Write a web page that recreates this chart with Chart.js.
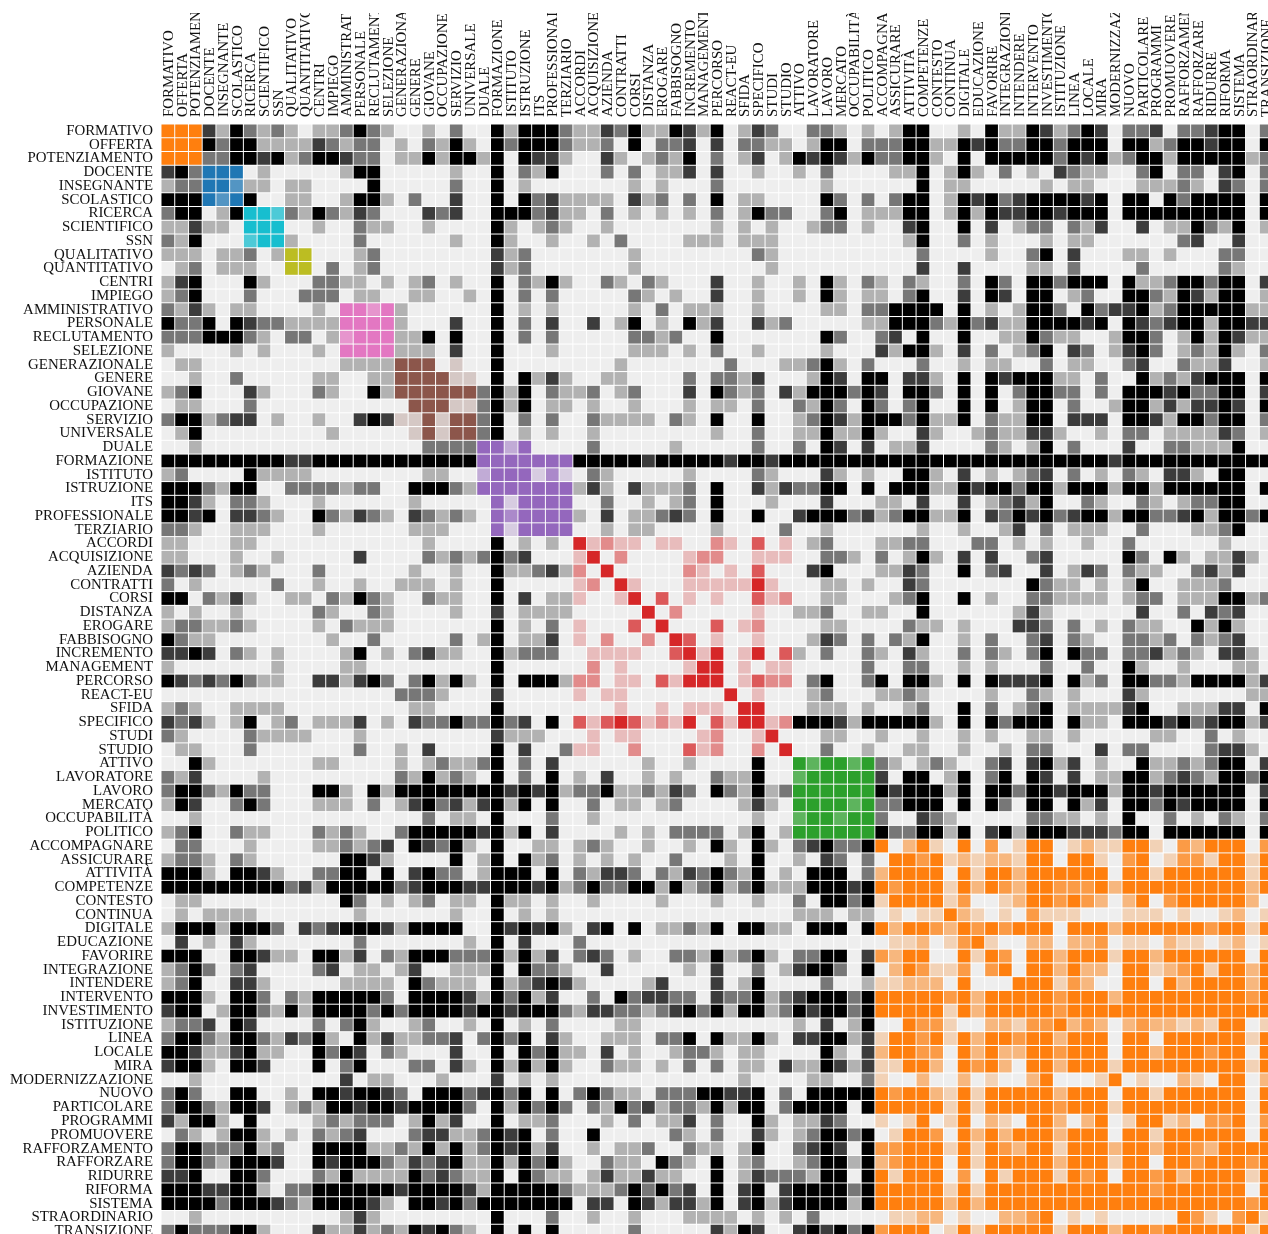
<!DOCTYPE html>
<html>
<head>
<meta charset="utf-8">
<title>Matrice di co-occorrenza</title>
<script src="https://cdn.jsdelivr.net/npm/chart.js"></script>
<style>
    html, body { margin: 0; padding: 0; background: #fff; overflow: hidden; }
    #matrix { position: absolute; left: 0; top: 13px; filter: blur(0.4px); }
</style>
</head>
<body>
<canvas id="matrix" width="1273" height="1225"></canvas>
<script>
// Terms, in the order of rows and columns
const terms = ['FORMATIVO','OFFERTA','POTENZIAMENTO','DOCENTE','INSEGNANTE','SCOLASTICO','RICERCA','SCIENTIFICO','SSN',
    'QUALITATIVO','QUANTITATIVO','CENTRI','IMPIEGO','AMMINISTRATIVO','PERSONALE','RECLUTAMENTO','SELEZIONE',
    'GENERAZIONALE','GENERE','GIOVANE','OCCUPAZIONE','SERVIZIO','UNIVERSALE','DUALE','FORMAZIONE','ISTITUTO',
    'ISTRUZIONE','ITS','PROFESSIONALE','TERZIARIO','ACCORDI','ACQUISIZIONE','AZIENDA','CONTRATTI','CORSI',
    'DISTANZA','EROGARE','FABBISOGNO','INCREMENTO','MANAGEMENT','PERCORSO','REACT-EU','SFIDA','SPECIFICO',
    'STUDI','STUDIO','ATTIVO','LAVORATORE','LAVORO','MERCATO','OCCUPABILITÀ','POLITICO','ACCOMPAGNARE',
    'ASSICURARE','ATTIVITÀ','COMPETENZE','CONTESTO','CONTINUA','DIGITALE','EDUCAZIONE','FAVORIRE','INTEGRAZIONE',
    'INTENDERE','INTERVENTO','INVESTIMENTO','ISTITUZIONE','LINEA','LOCALE','MIRA','MODERNIZZAZIONE','NUOVO',
    'PARTICOLARE','PROGRAMMI','PROMUOVERE','RAFFORZAMENTO','RAFFORZARE','RIDURRE','RIFORMA','SISTEMA',
    'STRAORDINARIO','TRANSIZIONE'];

// Consecutive groups of terms and their colours (null = no group, stays black)
const communitySizes = [3, 3, 3, 2, 2, 4, 6, 7, 16, 6, 29];
const communityColors = ['255,127,14', '31,119,180', '23,190,207', '188,189,34', null, '227,119,194',
    '140,86,75', '148,103,189', '214,39,40', '44,160,44', '255,127,14'];

// Strength levels 0-4. The matrix is symmetric so only the upper part is kept.
// Rows 0-19, columns 0-80
const rowsBlock0 = [
    '44431421210112421001 02004144421132411431 40132002210101440010 411431243022302234402',
    '44442441111321220102 14104244421120402230 30221101440222441143 422442444044124434404',
    '44422443412443220114 14414043310031012140 20130143431422441040 444442434124414444412',
    '34244401000001440000 01004021400020201130 30010010200001140141 020103211002402203402',
    '12244311011000040000 02004010000000101000 20000000100000040110 000010110001112103202',
    '44443440011001441020 03004042311110312020 40110000420202440143 423444434044042444404',
    '24401444321421320003 23004442311020101010 20142200240111440141 433443444044444444404',
    '11311044400100211001 00004101210010000000 10101001220100340040 301220213003011421401',
    '21400034410000200000 01004100100102000011 10111000000000140020 100010110000002300300',
    '11101120144000120000 00003120000000100000 00021000000000020000 100240300011010002200',
    '01201110044020120000 00003120000000100000 00001000000000030030 000110200002000002100',
    '13400041000221101012 01004021410021021000 30010010410210210020 420442444041124424403',
    '12400020002220110011 00104020200000210100 30010010410110240030 430440120044214314401',
    '21310110000104434100 00004010100000102011 10010000110224444040 101442042334124444411',
    '42240432211114444100 03004020300301401041 30031200000114442142 311444434043234414433',
    '22244421022013444114 04004020200000221200 40000000420023040040 011421100144201414311',
    '10000101000104444111 03004000100000111010 20010000100031441030 201240320134201214102',
    '01100000000001111444 01004000000001000000 02000112410200020010 110020110023002113001',
    '00100200000110011444 41104041310011000020 22130001430440331040 434441102004121344404',
    '12400031000210041444 44424140211201200030 42120314442430442040 402442202044434224403'
];
// Rows 20-39, columns 20-80
const rowsBlock1 = [
    '41124140110100100010 11020021420420240040 401440200144131334304',
    '14424020200211110210 40040012431444241140 211440333044314424402',
    '14424010100100000000 10020011411410031001 211331001022011113201',
    '22244240000200000100 00020020430301130000 210140200030022111400',
    '44444444444444434444 43443444444444444444 444444444344444444444',
    '10024441310210000010 00021000310100441030 101230201021033104400',
    '42144444441310311120 40031322440404441143 442441444144144444404',
    '00004144440020010120 40001000300011030030 123140021002101224400',
    '12104344441030112320 40040034442312441140 324342344144223414424',
    '10004144440010110000 10000200100000010010 013020111002000112400',
    '00004010104121101100 21030101200011220002 201010010020000001000',
    '12124230001402000012 20011100221020141030 300230000042041011310',
    '01004112312040000021 01030003400011320040 230030132021100231300',
    '01004000001204100011 11141000110100320000 000421101014001112000',
    '11004030111001403010 10031200110001240040 100221111012201114412',
    '01003011110000040200 00010011200110040000 001310000003002032300',
    '00004010201000304000 30120000110000211010 003320201021100414100',
    '02014011301020020430 10010001320202140010 200230210022120212300',
    '11004122200111100341 40140310200210310020 210240422022312103310',
    '00004000000201000014 40101100000200220010 100020020041001000110'
];
// Rows 40-59, columns 40-80
const rowsBlock2 = [
    '40132202400240441040 433340412044221444413',
    '04010001200011210000 100210100031000000011',
    '10440001110100120040 201240111134001113304',
    '31441244431444441040 424440411044434234413',
    '20014000110010010010 100110100000110020100',
    '20020400200100110010 010220003022000023310',
    '00040043443421012100 230341301004112124403',
    '21140034444430440140 240430301144123214424',
    '42141244444443444140 442443444144344444403',
    '00131044443422444040 420440413044243444404',
    '00010034434420032100 000221101040020102102',
    '20140144444442244140 341444333244044444404',
    '41041023422440241040 301440121144103244403',
    '01040010320204434121 221440441034013314414',
    '42140104440224444041 442444444044144444414',
    '41241114443443444142 432443334244444444424',
    '10010020442414444130 012443432024034444420',
    '00000011101101011421 010311100011101001201',
    '40441104440442443243 434440444244444434414',
    '00000000000001120134 100220223011021101201'
];
// Rows 60-80, columns 60-80
const rowsBlock3 = [
    '430442444144244444404',
    '340442422044123414424',
    '004441320044042444424',
    '444443444244444444434',
    '444443444444444444444',
    '221334232023221214401',
    '443442444044044444414',
    '422443444044244434404',
    '420442444144444444414',
    '100240001401002104402',
    '444442444044144444404',
    '444443444144444444404',
    '210442024014412033403',
    '424442444044144444404',
    '432441444244244324444',
    '444442444144044344434',
    '414441434044342444414',
    '444444444444344444404',
    '444444444444444444434',
    '022340101000004310341',
    '444441444244344444414'
];

const levelRows = [...rowsBlock0, ...rowsBlock1, ...rowsBlock2, ...rowsBlock3].map(r => r.replace(/ /g, ''));

function firstColumn(row) {
    return Math.min(Math.floor(row / 20), 3) * 20;
}

function levelAt(row, col) {
    if (col >= firstColumn(row)) return Number(levelRows[row][col - firstColumn(row)]);
    return Number(levelRows[col][row - firstColumn(col)]);
}

// group index of every term
const groupOf = [];
communitySizes.forEach((size, g) => {
    for (let i = 0; i < size; i++) groupOf.push(g);
});

const backgroundCells = [];
const valueCells = [];
terms.forEach((rowTerm, row) => {
    terms.forEach((colTerm, col) => {
        backgroundCells.push({ x: colTerm, y: rowTerm });
        const level = levelAt(row, col);
        if (level > 0) {
            const color = groupOf[row] === groupOf[col] ? communityColors[groupOf[row]] : null;
            valueCells.push({ x: colTerm, y: rowTerm, color: `rgba(${color || '0,0,0'},${level * 0.25})` });
        }
    });
});

const labelFont = { family: '"Liberation Serif", serif', size: 14.9 };

new Chart(document.getElementById('matrix'), {
    type: 'scatter',
    data: {
        datasets: [
            // the first dataset is painted last, so the values go over the grey cells
            {
                data: valueCells,
                pointStyle: 'rect',
                pointRadius: 9,
                borderWidth: 0,
                pointBackgroundColor: ctx => ctx.raw ? ctx.raw.color : 'transparent'
            },
            {
                data: backgroundCells,
                pointStyle: 'rect',
                pointRadius: 9,
                borderWidth: 0,
                pointBackgroundColor: '#eeeeee'
            }
        ]
    },
    options: {
        responsive: false,
        animation: false,
        events: [],
        layout: { padding: 0, autoPadding: false },
        plugins: {
            legend: { display: false },
            tooltip: { enabled: false }
        },
        scales: {
            x: {
                type: 'category',
                labels: terms,
                position: 'top',
                offset: true,
                grid: { display: false, drawTicks: false },
                border: { display: false },
                ticks: {
                    autoSkip: false,
                    minRotation: 90,
                    maxRotation: 90,
                    padding: 7,
                    labelOffset: 19,
                    color: '#111111',
                    font: labelFont
                },
                afterFit: scale => {
                    scale.height = 111;
                    scale.paddingLeft = 0;
                    scale.paddingRight = 0;
                }
            },
            y: {
                type: 'category',
                labels: terms,
                offset: true,
                grid: { display: false, drawTicks: false },
                border: { display: false },
                ticks: {
                    autoSkip: false,
                    padding: 8,
                    color: '#111111',
                    font: labelFont
                },
                afterFit: scale => {
                    scale.width = 161;
                    scale.paddingTop = 0;
                    scale.paddingBottom = 0;
                }
            }
        }
    }
});
</script>
</body>
</html>
